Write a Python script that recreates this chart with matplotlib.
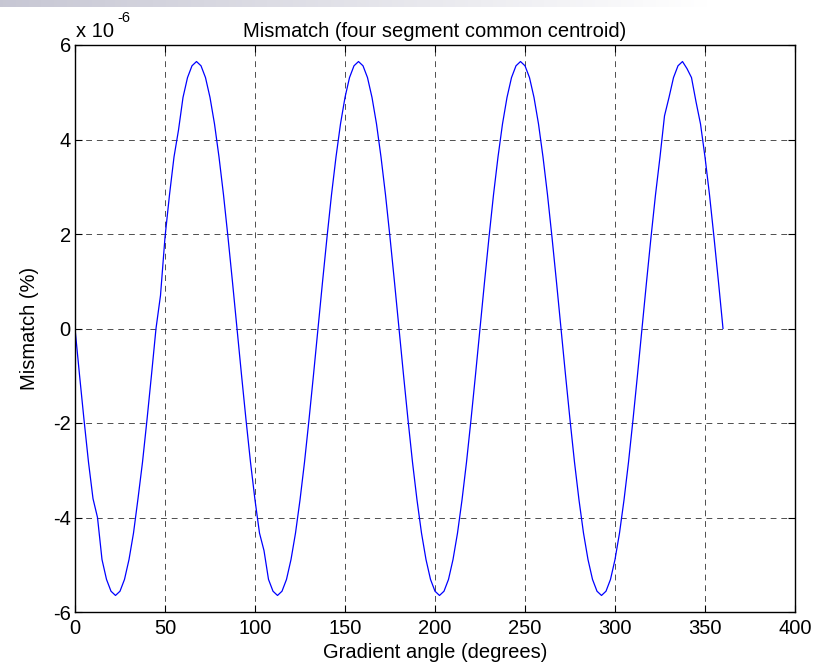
import numpy as np
import matplotlib.pyplot as plt

plt.rcParams["font.family"] = ["Liberation Sans", "DejaVu Sans"]
plt.rcParams["axes.unicode_minus"] = False

# gradient angle in degrees, 2.5 degree steps
angle = np.arange(0, 360.01, 2.5)

# mismatch, in units of 1e-6 %
mismatch = [
    0.00, -0.98, -1.93, -2.83, -3.60, -4.00, -4.89, -5.31, -5.56, -5.65,
    -5.56, -5.31, -4.89, -4.33, -3.60, -2.83, -1.93, -0.98, 0.00, 0.70,
    1.93, 2.83, 3.63, 4.20, 4.89, 5.31, 5.56, 5.65, 5.56, 5.31,
    4.89, 4.33, 3.63, 2.83, 1.93, 0.98,
    0.00, -0.98, -1.93, -2.83, -3.63, -4.33, -4.70, -5.31, -5.56, -5.65,
    -5.56, -5.31, -4.89, -4.33, -3.63, -2.83, -1.93, -0.98, 0.00, 0.98,
    1.93, 2.83, 3.63, 4.33, 4.89, 5.31, 5.56, 5.65, 5.56, 5.31,
    4.89, 4.33, 3.63, 2.83, 1.93, 0.98,
    0.00, -0.98, -1.93, -2.83, -3.63, -4.33, -4.89, -5.31, -5.56, -5.65,
    -5.56, -5.31, -4.89, -4.33, -3.63, -2.83, -1.93, -0.98, 0.00, 0.98,
    1.93, 2.83, 3.63, 4.33, 4.89, 5.31, 5.56, 5.65, 5.56, 5.31,
    4.89, 4.33, 3.63, 2.83, 1.93, 0.98,
    0.00, -0.98, -1.93, -2.83, -3.63, -4.33, -4.89, -5.31, -5.56, -5.65,
    -5.56, -5.31, -4.89, -4.33, -3.63, -2.83, -1.93, -0.98, 0.00, 0.98,
    1.93, 2.83, 3.63, 4.50, 4.89, 5.31, 5.56, 5.65, 5.50, 5.31,
    4.80, 4.33, 3.63, 2.83, 1.93, 0.98, 0.00,
]

xticks = [0, 50, 100, 150, 200, 250, 300, 350, 400]
yticks = [-6, -4, -2, 0, 2, 4, 6]

fs = 14.5

fig = plt.figure(figsize=(8.15, 6.7), dpi=100)

# grey fade along the top edge
band = fig.add_axes([0, 1 - 7 / 670, 1, 7 / 670])
grad = np.linspace(0, 1, 256)
shade = np.clip(1 - grad * 1.15, 0, 1)
img = np.zeros((1, 256, 3))
img[0, :, 0] = 1 - 0.22 * shade
img[0, :, 1] = 1 - 0.22 * shade
img[0, :, 2] = 1 - 0.17 * shade
band.imshow(img, aspect="auto", extent=[0, 1, 0, 1])
band.axis("off")

ax = fig.add_axes([75 / 815, 58 / 670, 720 / 815, 567 / 670])
ax.plot(angle[:len(mismatch)], mismatch, color="#0000ff", linewidth=0.9)

ax.set_xlim(0, 400)
ax.set_ylim(-6, 6)
ax.set_xticks(xticks)
ax.set_yticks(yticks)
ax.tick_params(direction="in", top=True, right=True, length=5, width=0.8,
               labelsize=fs, pad=3)
ax.tick_params(axis="x", pad=5)
ax.grid(True, color="#222222", linestyle=(0, (6, 5)), linewidth=0.7, alpha=0.8)
for s in ax.spines.values():
    s.set_linewidth(1.0)

ax.set_title("Mismatch (four segment common centroid)", fontsize=fs, pad=6)
ax.set_xlabel("Gradient angle (degrees)", fontsize=fs, labelpad=4)
ax.set_ylabel("Mismatch (%)", fontsize=fs, labelpad=10)

# exponent marker above the y axis
fig.text(76 / 815, 1 - 37 / 670, "x 10", fontsize=fs)
fig.text(117 / 815, 1 - 22 / 670, "-6", fontsize=10.5)

fig.savefig("out.png", dpi=100)
